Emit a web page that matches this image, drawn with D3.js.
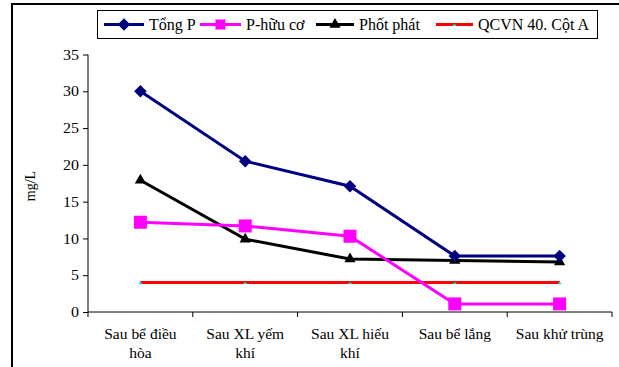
<!DOCTYPE html>
<html>
<head>
<meta charset="utf-8">
<script src="https://cdn.jsdelivr.net/npm/d3@7"></script>
</head>
<body style="margin:0; background:#fff">
<div id="chart"></div>
<script>
// data
var categories = [["Sau bể điều", "hòa"], ["Sau XL yếm", "khí"], ["Sau XL hiếu", "khí"], ["Sau bể lắng"], ["Sau khử trùng"]];
var tongP = [30, 20.5, 17.1, 7.6, 7.6];
var pHuuCo = [12.2, 11.7, 10.3, 1.1, 1.1];
var photPhat = [17.9, 9.9, 7.2, 7.0, 6.8];
var qcvn = [4, 4, 4, 4, 4];
var yTicks = [0, 5, 10, 15, 20, 25, 30, 35];

var series = [
    { name: "Tổng P", values: tongP, color: "#000080", marker: "diamond" },
    { name: "P-hữu cơ", values: pHuuCo, color: "#ff00ff", marker: "square" },
    { name: "Phốt phát", values: photPhat, color: "#000000", marker: "triangle" },
    { name: "QCVN 40. Cột A", values: qcvn, color: "#ff0000", marker: "dash" }
];

var FONT = "'Liberation Serif', 'Times New Roman', serif";
var W = 619, H = 367;
var margin = { top: 54.5, left: 88 };

var svg = d3.select("#chart").append("svg")
    .attr("width", W)
    .attr("height", H);

// outer frame (left and top edges)
svg.append("line").attr("x1", 12).attr("x2", 12).attr("y1", 3).attr("y2", H)
    .attr("stroke", "#000").attr("stroke-width", 2);
svg.append("line").attr("x1", 12).attr("x2", W).attr("y1", 4).attr("y2", 4)
    .attr("stroke", "#000").attr("stroke-width", 2);

var x = d3.scaleBand()
    .domain(d3.range(categories.length))
    .range([margin.left, 612]);

var y = d3.scaleLinear()
    .domain([0, 35])
    .range([312, margin.top]);

// y axis
var yAxis = svg.append("g")
    .attr("transform", "translate(" + margin.left + ",0)")
    .call(d3.axisLeft(y).tickValues(yTicks).tickSize(5).tickSizeOuter(0));
yAxis.select(".domain").attr("d", "M0," + y(35) + "V" + y(0));
yAxis.selectAll("text")
    .style("font-family", FONT).style("font-size", "14.5px")
    .attr("fill", "#000").attr("x", -9 / 1.1)
    .attr("transform", "scale(1.1,1)");

// x axis
var xAxis = svg.append("g")
    .attr("transform", "translate(0," + y(0) + ")")
    .call(d3.axisBottom(x).tickSize(0).tickFormat(""));
xAxis.select(".domain").attr("d", "M" + x.range()[0] + ",0H" + x.range()[1]);
var edges = d3.range(categories.length + 1).map(function(i) {
    return i < categories.length ? x(i) : x.range()[1];
});
xAxis.selectAll(".edge").data(edges).enter().append("line")
    .attr("class", "edge")
    .attr("x1", function(d) { return d; }).attr("x2", function(d) { return d; })
    .attr("y1", 0).attr("y2", 5)
    .attr("stroke", "#000");

var labels = svg.append("g").selectAll("text").data(categories).enter().append("text")
    .attr("text-anchor", "middle")
    .style("font-family", FONT).style("font-size", "14.5px")
    .attr("transform", function(d, i) {
        return "translate(" + (x(i) + x.bandwidth() / 2) + ",339) scale(1.07,1)";
    });
labels.selectAll("tspan").data(function(d) { return d; }).enter().append("tspan")
    .attr("x", 0)
    .attr("dy", function(d, i) { return i === 0 ? 0 : 19; })
    .text(function(d) { return d; });

// y axis title
svg.append("text")
    .attr("transform", "translate(35,186) rotate(-90)")
    .attr("text-anchor", "middle")
    .style("font-family", FONT).style("font-size", "14px")
    .text("mg/L");

var cx = function(d, i) { return x(i) + x.bandwidth() / 2; };

var line = d3.line()
    .x(cx)
    .y(function(d) { return y(d); });

function drawMarker(g, type, color) {
    if (type === "diamond") {
        g.append("path").attr("d", d3.symbol().type(d3.symbolDiamond2).size(100)())
            .attr("fill", color);
    } else if (type === "square") {
        g.append("rect").attr("x", -6.5).attr("y", -6.5).attr("width", 13).attr("height", 13)
            .attr("fill", color);
    } else if (type === "triangle") {
        g.append("path").attr("d", d3.symbol().type(d3.symbolTriangle).size(55)())
            .attr("fill", color);
    } else {
        g.append("rect").attr("x", -1.5).attr("y", 0).attr("width", 3).attr("height", 1.5)
            .attr("fill", "#00e5e5");
    }
}

// draw in reverse so Tổng P sits on top
series.slice().reverse().forEach(function(s) {
    svg.append("path")
        .datum(s.values)
        .attr("d", line)
        .attr("fill", "none")
        .attr("stroke", s.color)
        .attr("stroke-width", 3);
    s.values.forEach(function(v, i) {
        var g = svg.append("g")
            .attr("transform", "translate(" + cx(v, i) + "," + y(v) + ")");
        drawMarker(g, s.marker, s.color);
    });
});

// legend
var legend = svg.append("g");
legend.append("rect")
    .attr("x", 97.5).attr("y", 10.5).attr("width", 500).attr("height", 28)
    .attr("fill", "#fff").attr("stroke", "#000").attr("stroke-width", 1);

var legendPos = [104, 200, 316, 436];
var legendLen = [40, 41, 38, 37];
series.forEach(function(s, i) {
    var g = legend.append("g").attr("transform", "translate(" + legendPos[i] + ",24.5)");
    g.append("line").attr("x1", 0).attr("x2", legendLen[i])
        .attr("stroke", s.color).attr("stroke-width", 3);
    var mg = g.append("g").attr("transform", "translate(" + legendLen[i] / 2 + ",0)");
    if (s.marker === "square") {
        mg.append("rect").attr("x", -5).attr("y", -5).attr("width", 10).attr("height", 10)
            .attr("fill", s.color);
    } else {
        drawMarker(mg, s.marker, s.color);
    }
    g.append("text")
        .attr("x", legendLen[i] + 5)
        .attr("y", 5.5)
        .style("font-family", FONT).style("font-size", "16px")
        .text(s.name);
});
</script>
</body>
</html>
